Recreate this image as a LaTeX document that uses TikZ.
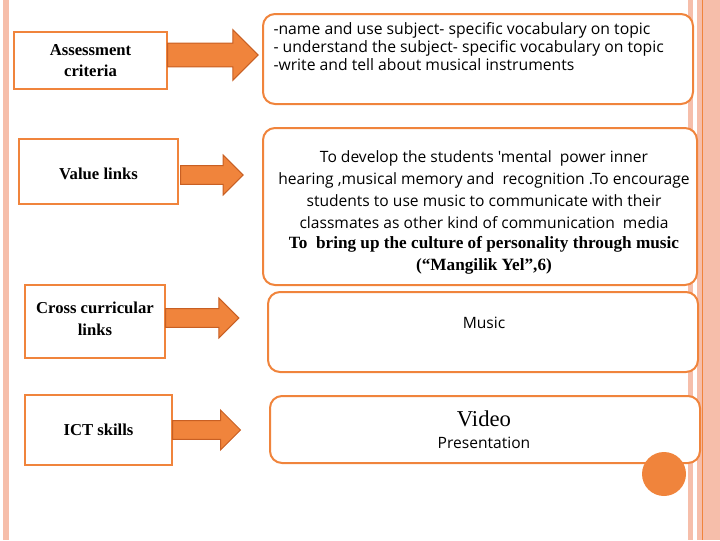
\documentclass[tikz,border=0pt]{standalone}
\usepackage{fontspec}
\setmainfont{Liberation Serif}
\newfontfamily\bodyfont{Open Sans}
\usetikzlibrary{shapes.arrows}
\definecolor{orng}{RGB}{240,132,60}
\definecolor{salmon}{RGB}{246,190,170}
\tikzset{every picture/.style={line width=0.75pt}}
\tikzset{
  lbox/.style={draw=orng,line width=1.5pt,fill=white,align=center,font=\bfseries\fontsize{12.5}{16}\selectfont},
  rbox/.style={draw=orng,line width=1.5pt,rounded corners=9pt,fill=white},
  harrow/.style={single arrow,draw={rgb,255:red,200;green,95;blue,35},fill=orng,line width=0.75pt,
    single arrow head extend=6pt,minimum height=20pt,inner sep=5pt,anchor=west}
}
\begin{document}
\begin{tikzpicture}[x=0.75pt,y=0.75pt,yscale=-1,xscale=1]
\useasboundingbox (0,0) rectangle (720,540);
% page borders
\fill[salmon] (3,0) rectangle (9,540);
\fill[salmon] (688,0) rectangle (693,540);
\fill[salmon] (697,0) rectangle (720,540);
\draw[orng] (702,0) -- (702,540);

% left boxes
\draw[lbox] (14,32) rectangle (167,89) node (ac) [midway] {Assessment\\criteria};
\draw[lbox] (19,139) rectangle (178,204) node (vl) [midway,yshift=-2pt] {Value links};
\draw[lbox] (25,285) rectangle (165,358) node (cc) [midway,yshift=2pt] {Cross curricular\\links};
\draw[lbox] (25,395) rectangle (172,465) node (ict) [midway] {ICT skills};

% right boxes
\draw[rbox] (263,14) rectangle (693,104);
\draw[rbox] (263,128) rectangle (697,285);
\draw[rbox] (268,292) rectangle (698,372);
\draw[rbox] (270,396) rectangle (700,463);

% arrows
\node[harrow,minimum width=38pt,minimum height=68pt] (a1) at (167,55) {};
\node[harrow,minimum width=30pt,minimum height=47pt] (a2) at (180,175) {};
\node[harrow,minimum width=30pt,minimum height=55pt] (a3) at (165,318) {};
\node[harrow,minimum width=30pt,minimum height=51pt] (a4) at (172,430) {};

% texts
\node[anchor=north west,align=left,font=\bodyfont\fontsize{11.8}{13.5}\selectfont,inner sep=0pt] (t1) at (273,22)
  {-name and use subject- specific vocabulary on topic\\
   - understand the subject- specific vocabulary on topic\\
   -write and tell about musical instruments};
\node[align=center,font=\bodyfont\fontsize{11.7}{16.5}\selectfont,inner sep=0pt] (t2) at (484,190)
  {To develop the students 'mental\ \ power inner\\
   hearing ,musical memory and\ \ recognition .To encourage\\
   students to use music to communicate with their\\
   classmates as other kind of communication\ \ media};
\node[align=center,font=\bfseries\fontsize{12.9}{16.5}\selectfont,inner sep=0pt] (t3) at (484,255)
  {To\ \ bring up the culture of personality through music\\
   (``Mangilik Yel'',6)};
\node[font=\bodyfont\fontsize{11.7}{12}\selectfont] (t4) at (484,323) {Music};
\node[font=\fontsize{17}{18}\selectfont] (t5) at (484,419) {Video};
\node[font=\bodyfont\fontsize{11.7}{12}\selectfont] (t6) at (484,443) {Presentation};

% dot
\fill[orng] (664,474) circle (22);
\end{tikzpicture}
\end{document}
